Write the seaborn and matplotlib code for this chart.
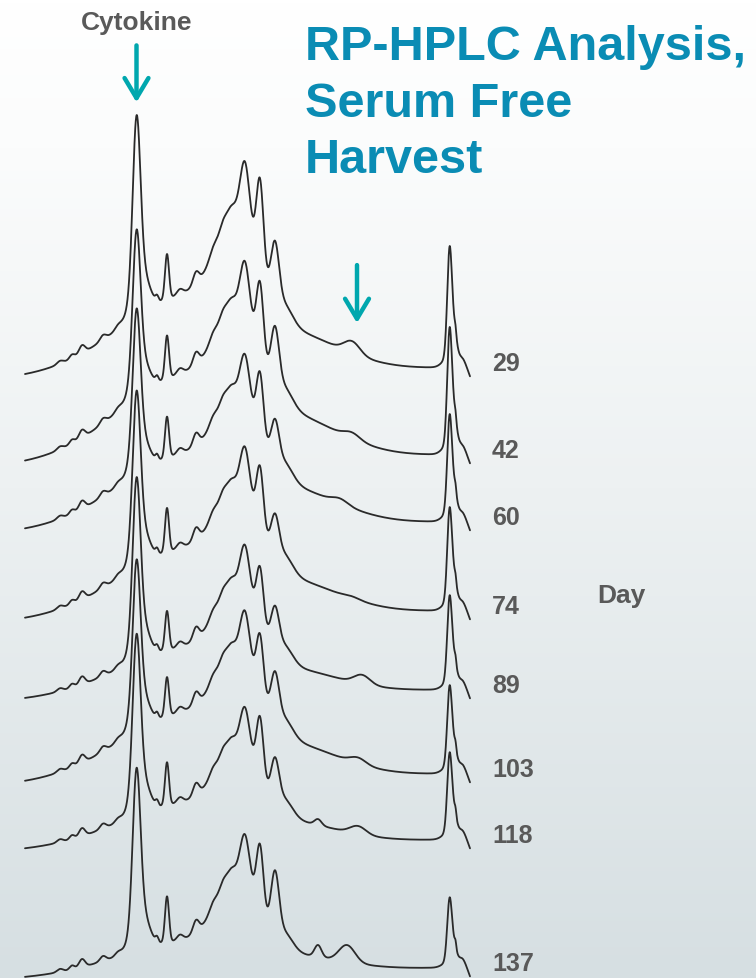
import numpy as np
import pandas as pd
import matplotlib
matplotlib.use('Agg')
import matplotlib.pyplot as plt
import seaborn as sns
from matplotlib.colors import LinearSegmentedColormap

# harvest days, top trace first
days = ['29', '42', '60', '74', '89', '103', '118', '137']
# stacking offset of each chromatogram baseline (display units)
offsets = [611, 524, 457, 368, 289, 205, 139, 11]

# retention time window (min)
t_start, t_end = 0.0, 44.5

# per-run values
bg_scale = [1.0, 1.1, 0.94, 0.87, 0.62, 0.855, 0.55, 0.43]      # broad gradient background
cytokine_h = [163, 136, 134, 143, 149, 139, 147, 148]           # cytokine peak ~11.2 min
p14_h = [45, 43, 41, 44, 39, 39, 43, 46]                        # early impurity ~14.2 min
hump_h = [95, 82, 73, 73, 71, 73, 66, 72]                       # broad cluster ~21 min
p22_h = [57, 50, 43, 44, 43, 44, 40, 43]
p235_h = [84, 69, 60, 59, 53, 55, 60, 64]
p25_h = [56, 55, 39, 37, 37, 43, 40, 60]
bump_t = [32.7, 32.7, 31.5, 32.7, 33.7, 33.3, 33.3, 32.2]        # late bump (second arrow)
bump_h = [12, 6, 5, 2, 9, 6, 8, 17]
late_h = [0, 0, 0, 0, 0, 0, 6, 12]
end_peak_h = [121, 127, 107, 103, 94, 88, 87, 70]               # system peak ~42.5 min

# minor peaks common to all runs: (retention time, height, sigma)
minor_peaks = [(3.5, 3, 0.3), (4.7, 4, 0.25), (5.7, 8, 0.3), (7.8, 5, 0.3), (9.3, 3, 0.3),
               (13.2, 5, 0.15), (15.5, 5, 0.3), (17.1, 12, 0.3),
               (18.8, 6, 0.35), (19.8, 7, 0.35), (20.6, 6, 0.35), (26.0, 15, 0.8),
               (43.05, 6, 0.08), (43.7, 8, 0.3), (44.7, -12, 0.3)]

cyto_t = 11.15


def gauss(t, c, h, s):
    return h * np.exp(-(t - c) ** 2 / (2 * s ** 2))


def chromatogram(t, i):
    y = bg_scale[i] * (gauss(t, 16.5, 80, 7.0) + gauss(t, 28.5, 18, 4.5))
    y += -12 * (1 - t / t_end)
    for c, h, s in minor_peaks:
        y += gauss(t, c, h, s)
    ch = cytokine_h[i]
    y += gauss(t, cyto_t, ch, 0.38) + gauss(t, cyto_t, 0.1 * ch, 0.9) + gauss(t, 11.7, 0.18 * ch, 0.7)
    y += gauss(t, 14.2, p14_h[i], 0.2)
    y += gauss(t, 21.3, hump_h[i], 2.0)
    y += gauss(t, 22.0, p22_h[i], 0.45) + gauss(t, 23.5, p235_h[i], 0.35) + gauss(t, 25.0, p25_h[i], 0.4)
    y += gauss(t, bump_t[i], bump_h[i], 0.8) + gauss(t, 29.3, late_h[i], 0.35)
    e = end_peak_h[i] / 1.2
    y += gauss(t, 42.45, e, 0.23) + gauss(t, 42.4, 0.1 * e, 0.6) + gauss(t, 42.9, 0.3 * e, 0.3)
    return y


t = np.linspace(t_start, t_end, 1781)
frames = []
for i, d in enumerate(days):
    frames.append(pd.DataFrame({'time': t, 'signal': offsets[i] + chromatogram(t, i), 'day': d}))
df = pd.concat(frames, ignore_index=True)

sns.set_theme(style='white')
plt.rcParams['font.family'] = ['Liberation Sans', 'DejaVu Sans']

W, H = 756, 979
fig = plt.figure(figsize=(W / 100, H / 100), dpi=100)

# slide background gradient
bg = fig.add_axes([0, 0, 1, 1])
cmap = LinearSegmentedColormap.from_list('bg', [(0, '#ffffff'), (0.15, '#fbfcfc'),
                                                (0.5, '#edf1f2'), (1, '#d6dfe2')])
bg.imshow(np.linspace(0, 1, 256).reshape(-1, 1), aspect='auto', cmap=cmap, extent=[0, 1, 0, 1])
bg.axis('off')

ax = fig.add_axes([0, 0, 1, 1])
ax.patch.set_alpha(0)
sns.lineplot(data=df, x='time', y='signal', units='day', estimator=None,
             color='#2a2a2a', linewidth=1.3, ax=ax, legend=False)
ax.set_xlim(-2.5, 73.1)
ax.set_ylim(0, H)
ax.axis('off')

gray = '#595959'
for i, d in enumerate(days):
    ax.text(46.7, offsets[i] + 4, d, fontsize=18, fontweight='bold', color=gray,
            ha='left', va='center')

teal = '#00a7ae'
arrow = dict(arrowstyle='->,head_length=0.72,head_width=0.43',
             color=teal, lw=3.2, mutation_scale=20, shrinkA=0, shrinkB=0)
top1 = offsets[0] + chromatogram(np.array([cyto_t]), 0)[0]
ax.annotate('', xy=(cyto_t, top1 + 13), xytext=(cyto_t, top1 + 70), arrowprops=arrow)
bump1 = offsets[0] + chromatogram(np.array([33.2]), 0)[0]
ax.annotate('', xy=(33.2, bump1 + 22), xytext=(33.2, bump1 + 80), arrowprops=arrow)

fig.text(137 / W, 1 - 30 / H, 'Cytokine', fontsize=19, fontweight='bold', color=gray,
         ha='center', va='baseline')
fig.text(597 / W, 1 - 603 / H, 'Day', fontsize=19, fontweight='bold', color=gray,
         ha='left', va='baseline')

title_color = '#0a8cb4'
for line, yb in zip(['RP-HPLC Analysis,', 'Serum Free', 'Harvest'], [60, 117, 173]):
    fig.text(305 / W, 1 - yb / H, line, fontsize=35, fontweight='bold', color=title_color,
             ha='left', va='baseline')

fig.savefig('out.png', dpi=100)
